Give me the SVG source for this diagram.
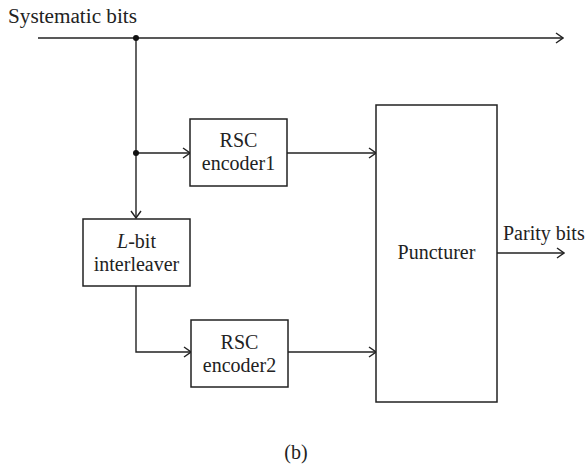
<svg xmlns="http://www.w3.org/2000/svg" width="587" height="465" viewBox="0 0 587 465">
<style>
text{font-family:"Liberation Serif","DejaVu Serif",serif;font-size:20px;fill:#222;}
.box{fill:#fff;stroke:#222;stroke-width:1.5;}
.ln{fill:none;stroke:#222;stroke-width:1.4;}
.mid{text-anchor:middle;}
</style>
<defs>
<marker id="ah" markerWidth="10" markerHeight="12" refX="9" refY="6" orient="auto" markerUnits="userSpaceOnUse">
<path d="M2,1 L9,6 L2,11" fill="none" stroke="#222" stroke-width="1.4"/>
</marker>
</defs>
<g id="connectors">
<line class="ln" x1="38" y1="38" x2="563" y2="38" marker-end="url(#ah)"/>
<line class="ln" x1="136" y1="38" x2="136" y2="218" marker-end="url(#ah)"/>
<line class="ln" x1="136" y1="153" x2="190" y2="153" marker-end="url(#ah)"/>
<line class="ln" x1="287" y1="153" x2="376" y2="153" marker-end="url(#ah)"/>
<polyline class="ln" points="136,286 136,352 191,352" marker-end="url(#ah)"/>
<line class="ln" x1="288" y1="352" x2="376" y2="352" marker-end="url(#ah)"/>
<line class="ln" x1="497" y1="253" x2="564" y2="253" marker-end="url(#ah)"/>
<circle cx="136" cy="38" r="3" fill="#111"/>
<circle cx="136" cy="153" r="3" fill="#111"/>
</g>
<g id="systematic-label"><text x="8" y="23" textLength="129" lengthAdjust="spacingAndGlyphs">Systematic bits</text></g>
<g id="rsc1">
<rect class="box" x="190" y="119" width="97" height="67"/>
<text class="mid" x="238.5" y="147">RSC</text>
<text class="mid" x="238.5" y="170">encoder1</text>
</g>
<g id="interleaver">
<rect class="box" x="83" y="219" width="107" height="67"/>
<text class="mid" x="136.5" y="248"><tspan font-style="italic">L</tspan>-bit</text>
<text class="mid" x="136.5" y="271">interleaver</text>
</g>
<g id="rsc2">
<rect class="box" x="191" y="320" width="97" height="67"/>
<text class="mid" x="239.5" y="349">RSC</text>
<text class="mid" x="239.5" y="372">encoder2</text>
</g>
<g id="puncturer">
<rect class="box" x="376" y="105" width="121" height="297"/>
<text class="mid" x="436.5" y="259">Puncturer</text>
</g>
<g id="parity-label"><text x="503" y="240">Parity bits</text></g>
<g id="caption"><text class="mid" x="296" y="459">(b)</text></g>
</svg>
